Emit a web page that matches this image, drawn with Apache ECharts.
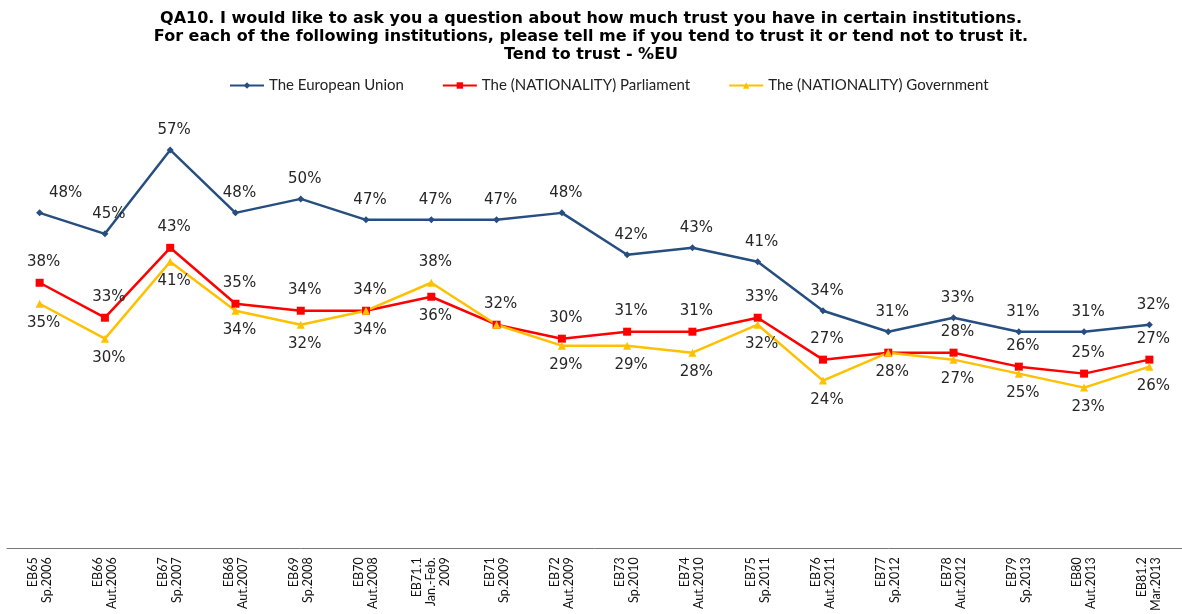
<!DOCTYPE html>
<html><head><meta charset="utf-8">
<script src="https://cdn.jsdelivr.net/npm/echarts@6/dist/echarts.min.js"></script>
<style>html,body{margin:0;padding:0;background:#fff}#c{width:1182px;height:614px}</style>
</head><body><div id="c"></div>
<script>
const categories = ['EB65\nSp.2006','EB66\nAut.2006','EB67\nSp.2007','EB68\nAut.2007','EB69\nSp.2008','EB70\nAut.2008','EB71.1\nJan.-Feb.\n2009','EB71\nSp.2009','EB72\nAut.2009','EB73\nSp.2010','EB74\nAut.2010','EB75\nSp.2011','EB76\nAut.2011','EB77\nSp.2012','EB78\nAut.2012','EB79\nSp.2013','EB80\nAut.2013','EB81.2\nMar.2013'];
const euValues = [48,45,57,48,50,47,47,47,48,42,43,41,34,31,33,31,31,32];
const parlValues = [38,33,43,35,34,34,36,32,30,31,31,33,27,28,28,26,25,27];
const govValues = [35,30,41,34,32,34,38,32,29,29,28,32,24,28,27,25,23,26];
const seriesNames = ['The European Union','The (NATIONALITY) Parliament','The (NATIONALITY) Government'];

// label placement (style): t = top, b = bottom, n = none
const euLabelPos   = ['t','t','t','t','t','t','t','t','t','t','t','t','t','t','t','t','t','t'];
const parlLabelPos = ['t','t','t','t','t','t','b','t','t','t','t','t','t','n','t','t','t','t'];
const govLabelPos  = ['b','b','b','b','b','b','t','n','b','b','b','b','b','b','b','b','b','b'];
const euLabelDx    = [22,0,0,0,0,0,0,0,0,0,0,0,0,0,0,0,0,0];

function build(values, pos, dx){
  return values.map((v,i)=>{
    const p = pos[i];
    if(p==='n') return {value:v, label:{show:false}};
    return {value:v, label:{position: p==='t'?'top':'bottom', distance: p==='t'?9:8,
      offset:[4 + (dx ? dx[i] : 0), 0]}};
  });
}
const labelStyle = {show:true, formatter:'{c}%', fontFamily:'DejaVu Sans', fontSize:15, color:'#262626'};
const chart = echarts.init(document.getElementById('c'), null, {renderer:'canvas'});
chart.setOption({
  animation:false,
  title:{text:'QA10. I would like to ask you a question about how much trust you have in certain institutions.\nFor each of the following institutions, please tell me if you tend to trust it or tend not to trust it.\nTend to trust - %EU',
    left:'center', top:10, padding:0, textStyle:{fontFamily:'DejaVu Sans', fontWeight:'bold', fontSize:16, lineHeight:18, color:'#000'}},
  legend:{top:73, left:224, itemGap:38, itemWidth:34, itemHeight:8,
    textStyle:{fontFamily:'Lato', fontSize:15, color:'#222'},
    data:seriesNames},
  grid:{left:7, width:1183, top:129, height:422},
  xAxis:{type:'category', data:categories, boundaryGap:true,
    axisLine:{lineStyle:{color:'#777', width:1}}, axisTick:{show:false},
    axisLabel:{rotate:90, interval:0, margin:9, fontFamily:'Lato', fontSize:12.5, lineHeight:14, color:'#111'}},
  yAxis:{type:'value', min:0, max:60, show:false, splitLine:{show:false}},
  series:[
    {name:seriesNames[0], type:'line', data:build(euValues, euLabelPos, euLabelDx), symbol:'diamond', symbolSize:7,
     lineStyle:{color:'#264E80', width:2.5}, itemStyle:{color:'#264E80'},
     label:Object.assign({}, labelStyle)},
    {name:seriesNames[1], type:'line', data:build(parlValues, parlLabelPos), symbol:'rect', symbolSize:8,
     lineStyle:{color:'#FF0000', width:2.5}, itemStyle:{color:'#FF0000'},
     label:Object.assign({}, labelStyle)},
    {name:seriesNames[2], type:'line', data:build(govValues, govLabelPos), symbol:'triangle', symbolSize:8,
     lineStyle:{color:'#FFC000', width:2.5}, itemStyle:{color:'#FFC000'},
     label:Object.assign({}, labelStyle)}
  ]
});
</script></body></html>
